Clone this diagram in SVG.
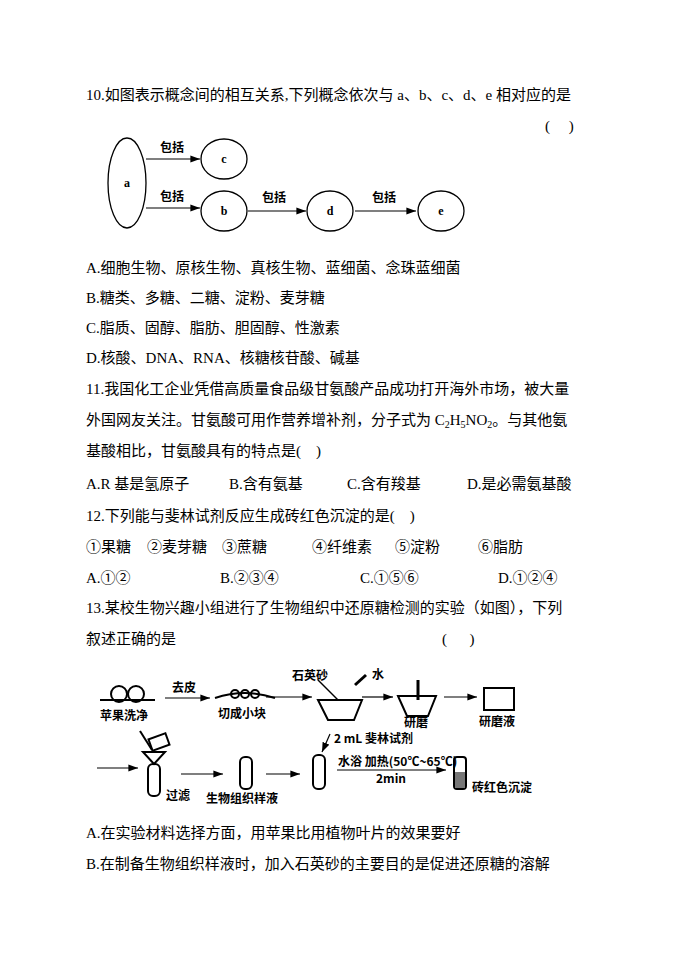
<svg xmlns="http://www.w3.org/2000/svg" width="688" height="971" viewBox="0 0 688 971">
<defs><marker id="ah" markerWidth="8" markerHeight="6" refX="8" refY="3" orient="auto"><path d="M0,0 L8,3 L0,6 Z" fill="#000"/></marker></defs>
<style>
text{font-family:"Liberation Serif","Noto Sans CJK SC",serif;font-size:15px;fill:#000;white-space:pre}
.s{font-family:"Noto Sans CJK SC",sans-serif;font-size:12px;font-weight:bold}
.l{font-family:"Liberation Serif",serif;font-size:12px;font-weight:bold}
.n{fill:#fff;stroke:#000;stroke-width:1.3}
.c{stroke:#000;stroke-width:1.2;fill:none;marker-end:url(#ah)}
.f{fill:none;stroke:#000;stroke-width:2}
</style>
<rect width="688" height="971" fill="#fff"/>
<text x="86" y="100">10.如图表示概念间的相互关系,下列概念依次与 a、b、c、d、e 相对应的是</text>
<text x="545" y="131">(     )</text>
<g id="connectors">
<line class="c" x1="146" y1="159" x2="200" y2="159"/><text class="s" x="160" y="152">包括</text>
<line class="c" x1="146" y1="208" x2="200" y2="208"/><text class="s" x="160" y="201">包括</text>
<line class="c" x1="248" y1="211" x2="306" y2="211"/><text class="s" x="262" y="202">包括</text>
<line class="c" x1="355" y1="211" x2="416" y2="211"/><text class="s" x="372" y="202">包括</text>
</g>
<g id="a"><ellipse class="n" cx="127" cy="183" rx="19" ry="45"/><text class="l" x="127" y="187" text-anchor="middle">a</text></g>
<g id="c"><ellipse class="n" cx="224" cy="159" rx="23" ry="20"/><text class="l" x="224" y="163" text-anchor="middle">c</text></g>
<g id="b"><ellipse class="n" cx="224" cy="211" rx="23" ry="20"/><text class="l" x="224" y="215" text-anchor="middle">b</text></g>
<g id="d"><ellipse class="n" cx="330" cy="211" rx="23" ry="20"/><text class="l" x="330" y="215" text-anchor="middle">d</text></g>
<g id="e"><ellipse class="n" cx="441" cy="211" rx="23" ry="20"/><text class="l" x="441" y="215" text-anchor="middle">e</text></g>
<text x="86" y="273">A.细胞生物、原核生物、真核生物、蓝细菌、念珠蓝细菌</text>
<text x="86" y="303">B.糖类、多糖、二糖、淀粉、麦芽糖</text>
<text x="86" y="333">C.脂质、固醇、脂肪、胆固醇、性激素</text>
<text x="86" y="363">D.核酸、DNA、RNA、核糖核苷酸、碱基</text>
<text x="86" y="394">11.我国化工企业凭借高质量食品级甘氨酸产品成功打开海外市场，被大量</text>
<text x="86" y="425">外国网友关注。甘氨酸可用作营养增补剂，分子式为 C<tspan font-size="10" dy="3">2</tspan><tspan dy="-3">H</tspan><tspan font-size="10" dy="3">5</tspan><tspan dy="-3">NO</tspan><tspan font-size="10" dy="3">2</tspan><tspan dy="-3">。与其他氨</tspan></text>
<text x="86" y="456">基酸相比，甘氨酸具有的特点是(    )</text>
<text x="86" y="489">A.R 基是氢原子</text><text x="229" y="489">B.含有氨基</text><text x="347" y="489">C.含有羧基</text><text x="467" y="489">D.是必需氨基酸</text>
<text x="86" y="521">12.下列能与斐林试剂反应生成砖红色沉淀的是(    )</text>
<text x="86" y="552">①果糖</text><text x="147" y="552">②麦芽糖</text><text x="222" y="552">③蔗糖</text><text x="312" y="552">④纤维素</text><text x="395" y="552">⑤淀粉</text><text x="478" y="552">⑥脂肪</text>
<text x="86" y="583">A.①②</text><text x="220" y="583">B.②③④</text><text x="360" y="583">C.①⑤⑥</text><text x="498" y="583">D.①②④</text>
<text x="86" y="613">13.某校生物兴趣小组进行了生物组织中还原糖检测的实验（如图），下列</text>
<text x="86" y="644">叙述正确的是</text><text x="442" y="644">(      )</text>
<g id="experiment">
<circle class="f" cx="119" cy="694" r="8"/><circle class="f" cx="136" cy="694" r="8"/><path class="f" d="M100,700 L155,700"/>
<text class="s" x="100" y="720">苹果洗净</text>
<line class="c" x1="165" y1="698" x2="210" y2="698"/><text class="s" x="172" y="692">去皮</text>
<path class="f" d="M215,698 Q245,688 275,698"/><circle class="f" cx="235" cy="694" r="4"/><circle class="f" cx="245" cy="694" r="4"/><circle class="f" cx="255" cy="694" r="4"/>
<text class="s" x="218" y="718">切成小块</text>
<line class="c" x1="266" y1="697" x2="312" y2="697"/>
<text class="s" x="292" y="680">石英砂</text><text class="s" x="372" y="679">水</text>
<path class="f" d="M318,700 L328,720 L354,720 L362,700 Z"/><line x1="318" y1="680" x2="338" y2="700" stroke="#000" stroke-width="1.5"/><line x1="355" y1="685" x2="366" y2="675" stroke="#000" stroke-width="3"/>
<line class="c" x1="362" y1="697" x2="393" y2="697"/>
<path class="f" d="M398,696 L407,716 L428,716 L436,696 Z"/><line x1="418" y1="680" x2="418" y2="700" stroke="#000" stroke-width="3"/>
<text class="s" x="404" y="727">研磨</text>
<line class="c" x1="444" y1="697" x2="477" y2="697"/>
<rect class="f" x="484" y="688" width="30" height="22"/><text class="s" x="479" y="726">研磨液</text>
<line class="c" x1="330" y1="734" x2="322" y2="752"/><text class="s" x="334" y="743">2 mL 斐林试剂</text>
<line class="c" x1="97" y1="768" x2="138" y2="768"/>
<path class="f" d="M143,752 L165,752 L154,764 Z"/><line x1="152" y1="750" x2="140" y2="731" stroke="#000" stroke-width="2"/><rect class="f" x="150" y="736" width="18" height="12" transform="rotate(-20 159 742)"/>
<rect class="f" x="148" y="764" width="12" height="32" rx="5"/><text class="s" x="166" y="800">过滤</text>
<line class="c" x1="181" y1="774" x2="223" y2="774"/>
<rect class="f" x="240" y="757" width="12" height="32" rx="5"/><text class="s" x="206" y="803">生物组织样液</text>
<line class="c" x1="266" y1="774" x2="300" y2="774"/>
<rect class="f" x="313" y="755" width="12" height="34" rx="5"/>
<text class="s" x="338" y="766">水浴 加热(50℃~65℃)</text><line x1="337" y1="770" x2="446" y2="770" stroke="#000" stroke-width="1.2" marker-end="url(#ah)"/><text class="s" x="376" y="783">2min</text>
<rect class="f" x="454" y="757" width="12" height="32" rx="3"/><path d="M455,772 L465,772 L465,788 L455,788Z" fill="#777"/><text class="s" x="472" y="792">砖红色沉淀</text>
</g>
<text x="86" y="838">A.在实验材料选择方面，用苹果比用植物叶片的效果要好</text>
<text x="86" y="869">B.在制备生物组织样液时，加入石英砂的主要目的是促进还原糖的溶解</text>
</svg>
